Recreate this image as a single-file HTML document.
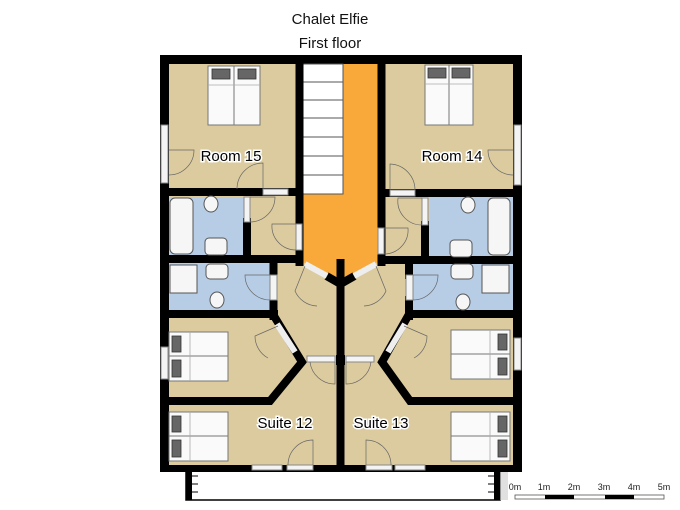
<!DOCTYPE html>
<html><head><meta charset="utf-8"><style>
html,body{margin:0;padding:0;background:#fff;width:680px;height:510px;overflow:hidden}
svg{display:block}
text{font-family:"Liberation Sans",sans-serif}
</style></head><body>
<svg width="680" height="510" viewBox="0 0 680 510" xmlns="http://www.w3.org/2000/svg">
<text x="330" y="24" font-size="15" text-anchor="middle" fill="#111">Chalet Elfie</text>
<text x="330" y="48" font-size="15" text-anchor="middle" fill="#111">First floor</text>

<!-- balcony -->
<rect x="186" y="468" width="314" height="32" fill="#fff" stroke="#000" stroke-width="1.5"/>
<rect x="186" y="468" width="6" height="32" fill="#000"/>
<rect x="494" y="468" width="6" height="32" fill="#000"/>
<rect x="500" y="470" width="8" height="30" fill="#ccc" opacity="0.6"/>
<g stroke="#000" stroke-width="1">
<line x1="192" y1="476" x2="198" y2="476"/><line x1="192" y1="484" x2="198" y2="484"/><line x1="192" y1="492" x2="198" y2="492"/>
<line x1="488" y1="476" x2="494" y2="476"/><line x1="488" y1="484" x2="494" y2="484"/><line x1="488" y1="492" x2="494" y2="492"/>
</g>

<!-- interior -->
<rect x="160" y="55" width="362" height="417" fill="#000"/>
<rect x="169" y="64" width="344" height="401" fill="#dccb9f"/>
<!-- baths -->
<rect x="169" y="197" width="76" height="58" fill="#b7cde6"/>
<rect x="430" y="197" width="83" height="60" fill="#b7cde6"/>
<rect x="169" y="264" width="103" height="47" fill="#b7cde6"/>
<rect x="413" y="264" width="100" height="47" fill="#b7cde6"/>
<!-- orange hall -->
<polygon points="343,64 378,64 378,262 343,280 338,280 303,262 303,194 343,194" fill="#f8a93a"/>
<!-- stairs -->
<rect x="303" y="64" width="40" height="130" fill="#fff" stroke="#555" stroke-width="1"/>
<g stroke="#555" stroke-width="1">
<line x1="303" y1="82" x2="343" y2="82"/><line x1="303" y1="100" x2="343" y2="100"/><line x1="303" y1="118" x2="343" y2="118"/>
<line x1="303" y1="137" x2="343" y2="137"/><line x1="303" y1="156" x2="343" y2="156"/><line x1="303" y1="175" x2="343" y2="175"/>
</g>

<!-- walls -->
<g stroke="#000" stroke-width="8" fill="none" stroke-linecap="square">
<line x1="299.5" y1="64" x2="299.5" y2="262"/>
<line x1="381.5" y1="64" x2="381.5" y2="262"/>
<line x1="169" y1="192" x2="296" y2="192"/>
<line x1="385" y1="193" x2="513" y2="193"/>
<line x1="247" y1="222" x2="247" y2="255"/>
<line x1="425" y1="225" x2="425" y2="257"/>
<line x1="169" y1="259" x2="299" y2="259"/>
<line x1="385" y1="260" x2="513" y2="260"/>
<line x1="273.5" y1="263" x2="273.5" y2="275"/>
<line x1="273.5" y1="300" x2="273.5" y2="316"/>
<line x1="409" y1="263" x2="409" y2="275"/>
<line x1="409" y1="300" x2="409" y2="316"/>
<line x1="169" y1="314" x2="274" y2="314"/>
<line x1="409" y1="314" x2="513" y2="314"/>
<polyline points="274,316 302,362 270,401 169,401" stroke-linejoin="miter"/>
<polyline points="408,316 382,362 410,401 513,401" stroke-linejoin="miter"/>
<line x1="340.5" y1="263" x2="340.5" y2="465"/>
<polyline points="330,278 340.5,284 351,278"/>
</g>
<rect x="336" y="355" width="9" height="10" fill="#000"/>

<!-- doors/windows (white gaps) -->
<g fill="#f4f4f4" stroke="#888" stroke-width="1">
<rect x="263" y="189" width="25" height="6"/>
<rect x="390" y="190" width="25" height="6"/>
<rect x="244" y="197" width="6" height="25"/>
<rect x="422" y="198" width="6" height="27"/>
<rect x="296" y="224" width="6" height="26"/>
<rect x="378" y="228" width="6" height="26"/>
<rect x="270" y="275" width="7" height="25"/>
<rect x="406" y="275" width="7" height="25"/>
<rect x="307" y="356" width="28" height="6"/>
<rect x="346" y="356" width="28" height="6"/>
<rect x="252" y="465" width="30" height="5"/>
<rect x="287" y="465" width="26" height="5"/>
<rect x="366" y="465" width="26" height="5"/>
<rect x="395" y="465" width="30" height="5"/>
<rect x="161" y="125" width="7" height="58"/>
<rect x="514" y="125" width="7" height="60"/>
<rect x="161" y="347" width="7" height="32"/>
<rect x="514" y="338" width="7" height="32"/>
</g>
<g stroke="#eee" stroke-width="6">
<line x1="305" y1="264" x2="327" y2="276"/>
<line x1="376" y1="264" x2="354" y2="276"/>
<line x1="277" y1="324" x2="295" y2="352"/>
<line x1="405" y1="324" x2="388" y2="352"/>
</g>
<!-- door arcs -->
<g stroke="#666" stroke-width="0.7" fill="none">
<path d="M263,189 v-26 a26,26 0 0 0 -26,26"/>
<path d="M390,190 v-26 a26,26 0 0 1 25,26"/>
<path d="M250,197 h25 a25,25 0 0 1 -25,25"/>
<path d="M422,198 h-24 a24,24 0 0 0 24,27"/>
<path d="M296,224 h-24 a24,24 0 0 0 24,26"/>
<path d="M384,228 h24 a24,24 0 0 1 -24,26"/>
<path d="M270,275 h-25 a25,25 0 0 0 25,25"/>
<path d="M413,275 h25 a25,25 0 0 1 -25,25"/>
<path d="M169,150 h25 a25,25 0 0 1 -25,25"/>
<path d="M513,150 h-25 a25,25 0 0 0 25,25"/>
<path d="M335,362 v22 a25,25 0 0 1 -25,-22"/>
<path d="M346,362 v22 a25,25 0 0 0 25,-22"/>
<path d="M313,465 v-25 a25,25 0 0 0 -25,25"/>
<path d="M366,465 v-25 a25,25 0 0 1 25,25"/>
<path d="M305,266 l-10,25 a25,25 0 0 0 22,15"/>
<path d="M376,266 l10,25 a25,25 0 0 1 -22,15"/>
<path d="M278,326 l-23,10 a25,25 0 0 0 13,22"/>
<path d="M404,326 l23,10 a25,25 0 0 1 -13,22"/>
</g>

<!-- beds -->
<g stroke="#777" stroke-width="1" fill="#fafafa">
<rect x="208" y="66" width="26" height="59"/><rect x="234" y="66" width="26" height="59"/>
<rect x="425" y="65" width="24" height="60"/><rect x="449" y="65" width="24" height="60"/>
<rect x="169" y="332" width="59" height="24"/><rect x="169" y="356" width="59" height="25"/>
<rect x="169" y="412" width="59" height="24"/><rect x="169" y="436" width="59" height="25"/>
<rect x="451" y="330" width="59" height="24"/><rect x="451" y="354" width="59" height="25"/>
<rect x="451" y="412" width="59" height="24"/><rect x="451" y="436" width="59" height="25"/>
</g>
<g fill="#666" stroke="#333" stroke-width="0.8">
<rect x="212" y="69" width="18" height="10"/><rect x="238" y="69" width="18" height="10"/>
<rect x="428" y="68" width="18" height="10"/><rect x="452" y="68" width="18" height="10"/>
<rect x="172" y="336" width="9" height="16"/><rect x="172" y="360" width="9" height="17"/>
<rect x="172" y="416" width="9" height="16"/><rect x="172" y="440" width="9" height="17"/>
<rect x="498" y="334" width="9" height="16"/><rect x="498" y="358" width="9" height="17"/>
<rect x="498" y="416" width="9" height="16"/><rect x="498" y="440" width="9" height="17"/>
</g>
<g stroke="#aaa" stroke-width="0.8" fill="none">
<line x1="208" y1="85" x2="260" y2="85"/><line x1="425" y1="84" x2="473" y2="84"/>
<line x1="190" y1="332" x2="190" y2="381"/><line x1="190" y1="412" x2="190" y2="461"/>
<line x1="490" y1="330" x2="490" y2="379"/><line x1="490" y1="412" x2="490" y2="461"/>
</g>
<!-- fixtures -->
<g fill="#f6f6f6" stroke="#555" stroke-width="1">
<rect x="170" y="198" width="23" height="56" rx="5"/>
<rect x="488" y="198" width="22" height="57" rx="5"/>
<rect x="170" y="265" width="27" height="28"/>
<rect x="482" y="265" width="27" height="28"/>
<ellipse cx="211" cy="204" rx="7" ry="8"/>
<ellipse cx="468" cy="205" rx="7" ry="8"/>
<ellipse cx="217" cy="300" rx="7" ry="8"/>
<ellipse cx="463" cy="302" rx="7" ry="8"/>
<rect x="205" y="238" width="22" height="17" rx="4"/>
<rect x="450" y="240" width="22" height="17" rx="4"/>
<rect x="206" y="264" width="22" height="15" rx="4"/>
<rect x="451" y="264" width="22" height="15" rx="4"/>
</g>

<!-- labels -->
<g font-size="15" fill="#000" stroke="#fff" stroke-width="3" paint-order="stroke" text-anchor="middle">
<text x="231" y="161">Room 15</text>
<text x="452" y="161">Room 14</text>
<text x="285" y="428">Suite 12</text>
<text x="381" y="428">Suite 13</text>
</g>

<!-- scale bar -->
<g font-size="9" fill="#222" text-anchor="middle">
<text x="515" y="490">0m</text><text x="544" y="490">1m</text><text x="574" y="490">2m</text>
<text x="604" y="490">3m</text><text x="634" y="490">4m</text><text x="664" y="490">5m</text>
</g>
<rect x="515" y="495" width="149" height="4" fill="#fff" stroke="#555" stroke-width="0.8"/>
<rect x="545" y="495" width="29" height="4" fill="#000"/>
<rect x="605" y="495" width="29" height="4" fill="#000"/>
</svg>
</body></html>
